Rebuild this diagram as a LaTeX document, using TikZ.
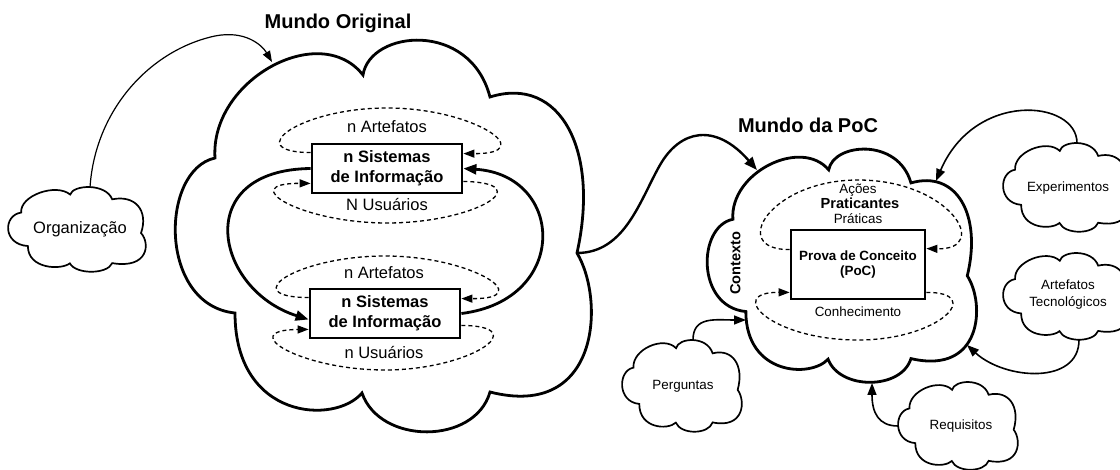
\documentclass[tikz,border=0pt]{standalone}
\usepackage{fontspec}
\setmainfont{Liberation Sans}
\usetikzlibrary{arrows.meta}

% Cloud outline laid out in a unit square and scaled to the box
% #1 style, #2 left, #3 top, #4 width, #5 height
\newcommand{\cloudoutline}[5]{%
  \draw[#1, shift={(#2,#3)}, xscale=#4, yscale=#5]
    (0.0959,0.3003)
    .. controls (0.0839,0.1018) and (0.3477,-0.0509) .. (0.4508,0.0891)
    .. controls (0.4676,-0.0254) and (0.7074,-0.0509) .. (0.7554,0.1450)
    .. controls (0.9233,0.0891) and (1.0192,0.2799) .. (0.9640,0.5420)
    .. controls (1.0312,0.6616) and (1.0192,0.9669) .. (0.7554,0.8957)
    .. controls (0.7194,1.0305) and (0.4916,1.0305) .. (0.4484,0.8982)
    .. controls (0.3837,0.9796) and (0.1439,0.9669) .. (0.1439,0.6947)
    .. controls (-0.0408,0.6743) and (-0.0360,0.3308) .. (0.0959,0.3003)
    -- cycle;}

\tikzset{
  bigcloud/.style={draw=black, line width=2.8pt, line join=miter, miter limit=4},
  smallcloud/.style={draw=black, line width=1.7pt, line join=miter, miter limit=4},
  sibox/.style={draw, fill=white, line width=2.8pt, minimum width=150pt,
    minimum height=49pt, align=center, inner sep=2pt,
    font=\bfseries\fontsize{16.5}{20}\selectfont},
  pocbox/.style={draw, fill=white, line width=2.8pt, minimum width=134pt,
    minimum height=69pt, align=center, inner sep=2pt,
    font=\bfseries\fontsize{13.4}{15.5}\selectfont},
  title/.style={inner sep=0pt, text height=14.4pt, text depth=0pt,
    font=\bfseries\fontsize{20}{24}\selectfont},
  lbl/.style={inner sep=0pt, text height=11.9pt, text depth=0pt,
    font=\fontsize{16.5}{20}\selectfont},
  lblsm/.style={inner sep=0pt, text height=9.6pt, text depth=0pt,
    font=\fontsize{13.4}{16}\selectfont},
  lblml/.style={inner sep=0pt, align=center, font=\fontsize{13.4}{16.5}\selectfont},
  lblbold/.style={inner sep=0pt, text height=10.5pt, text depth=0pt,
    font=\bfseries\fontsize{14.6}{17}\selectfont},
  thickflow/.style={line width=2.8pt, -{Triangle[length=13pt,width=10pt]}},
  worldflow/.style={line width=2.4pt, -{Triangle[length=13pt,width=10pt]}},
  feedflow/.style={line width=1.6pt, -{Triangle[length=12pt,width=9pt]}},
  thinflow/.style={line width=1.2pt, -{Triangle[length=11pt,width=8pt]}},
  dashloop/.style={line width=1.3pt, dash pattern=on 4pt off 3pt,
    -{Triangle[length=11pt,width=8pt]}},
}

\begin{document}
\begin{tikzpicture}[x=1pt,y=-1pt]
\fill[white] (0,0) rectangle (1120,470);
\useasboundingbox (0,0) rectangle (1120,470);

% ---- clouds ----
\cloudoutline{bigcloud}{175}{40}{417}{393}
\cloudoutline{bigcloud}{707}{149}{270}{234}
\cloudoutline{smallcloud}{8}{187}{138}{85}
\cloudoutline{smallcloud}{1003}{143}{126}{89}
\cloudoutline{smallcloud}{1003}{253}{126}{87}
\cloudoutline{smallcloud}{622}{340}{120}{92}
\cloudoutline{smallcloud}{898}{382}{120}{88}

% ---- titles ----
\node[title] (t-orig) at (338,21) {Mundo Original};
\node[title] (t-poc) at (808,125) {Mundo da PoC};

% ---- cloud labels ----
\node[lbl] (org) at (80,228) {Organização};
\node[lblsm] (exp) at (1068,187) {Experimentos};
\node[lblml] (tec) at (1068,294.5) {Artefatos\\Tecnológicos};
\node[lblsm] (perg) at (683,385) {Perguntas};
\node[lblsm] (req) at (961,425) {Requisitos};

% ---- information systems ----
\node[sibox] (si1) at (387,168.5) {n Sistemas\\de Informação};
\node[sibox] (si2) at (385,313.5) {n Sistemas\\de Informação};

\node[lbl] (art1) at (387,127) {n Artefatos};
\node[lbl] (usu1) at (387,205) {N Usuários};
\node[lbl] (art2) at (384,273) {n Artefatos};
\node[lbl] (usu2) at (384,353) {n Usuários};

\draw[dashloop] ([yshift=-10pt]si1.north west)
  .. controls (240,152) and (300,108) .. (387,108)
  .. controls (475,108) and (540,154) .. ([yshift=-11pt]si1.north east);
\draw[dashloop] ([yshift=13pt]si1.south east)
  .. controls (540,183) and (475,223) .. (387,223)
  .. controls (300,223) and (235,183) .. ([yshift=11pt]si1.south west);
\draw[dashloop] ([yshift=-10pt]si2.north west)
  .. controls (235,297) and (298,256) .. (385,256)
  .. controls (472,256) and (538,299) .. ([yshift=-11pt]si2.north east);
\draw[dashloop] ([yshift=14pt]si2.south east)
  .. controls (535,326) and (470,370) .. (385,370)
  .. controls (300,370) and (235,330) .. ([yshift=10pt]si2.south west);

\draw[thickflow] (si1.west) .. controls (190,170) and (215,290) .. ([yshift=-6pt]si2.west);
\draw[thickflow] (si2.east) .. controls (570,300) and (565,175) .. (si1.east);

% ---- proof of concept ----
\node[pocbox] (poc) at (858,264.5) {Prova de Conceito\\(PoC)};
\node[lblsm] (acoes) at (858,189) {Ações};
\node[lblbold] (pract) at (860,203) {Praticantes};
\node[lblsm] (prat) at (858,219) {Práticas};
\node[lblsm] (conh) at (858,312) {Conhecimento};
\node[lblbold, rotate=90] (ctx) at (735,263) {Contexto};

\draw[dashloop] ([yshift=-21pt]poc.north west)
  .. controls (728,250) and (770,180) .. (858,180)
  .. controls (950,180) and (992,250) .. ([yshift=-20pt]poc.north east);
\draw[dashloop] ([yshift=8pt]poc.south east)
  .. controls (985,292) and (940,340) .. (858,340)
  .. controls (770,340) and (725,292) .. ([yshift=8pt]poc.south west);

% ---- connection points on the cloud outlines ----
\coordinate (org-top) at (90,187.5);
\coordinate (orig-in) at (272,62);
\coordinate (orig-out) at (577,253);
\coordinate (poc-in) at (757,170);
\coordinate (exp-top) at (1077,143);
\coordinate (poc-exp) at (936,181);
\coordinate (tec-bot) at (1079,340);
\coordinate (poc-tec) at (967,345);
\coordinate (perg-top) at (693,340);
\coordinate (poc-perg) at (746,320);
\coordinate (req-left) at (898,426);
\coordinate (poc-req) at (872,383);

\draw[thinflow] (org-top) .. controls (95,110) and (150,50) .. (215,36)
  .. controls (245,30) and (262,45) .. (orig-in);
\draw[worldflow] (orig-out) .. controls (625,253) and (640,200) .. (660,165)
  .. controls (680,130) and (715,122) .. (poc-in);
\draw[feedflow] (exp-top) .. controls (1077,100) and (975,90) .. (poc-exp);
\draw[feedflow] (tec-bot) .. controls (1079,385) and (1005,380) .. (poc-tec);
\draw[feedflow] (perg-top) .. controls (693,316) and (715,320) .. (poc-perg);
\draw[feedflow] (req-left) .. controls (878,426) and (872,412) .. (poc-req);
\end{tikzpicture}
\end{document}
